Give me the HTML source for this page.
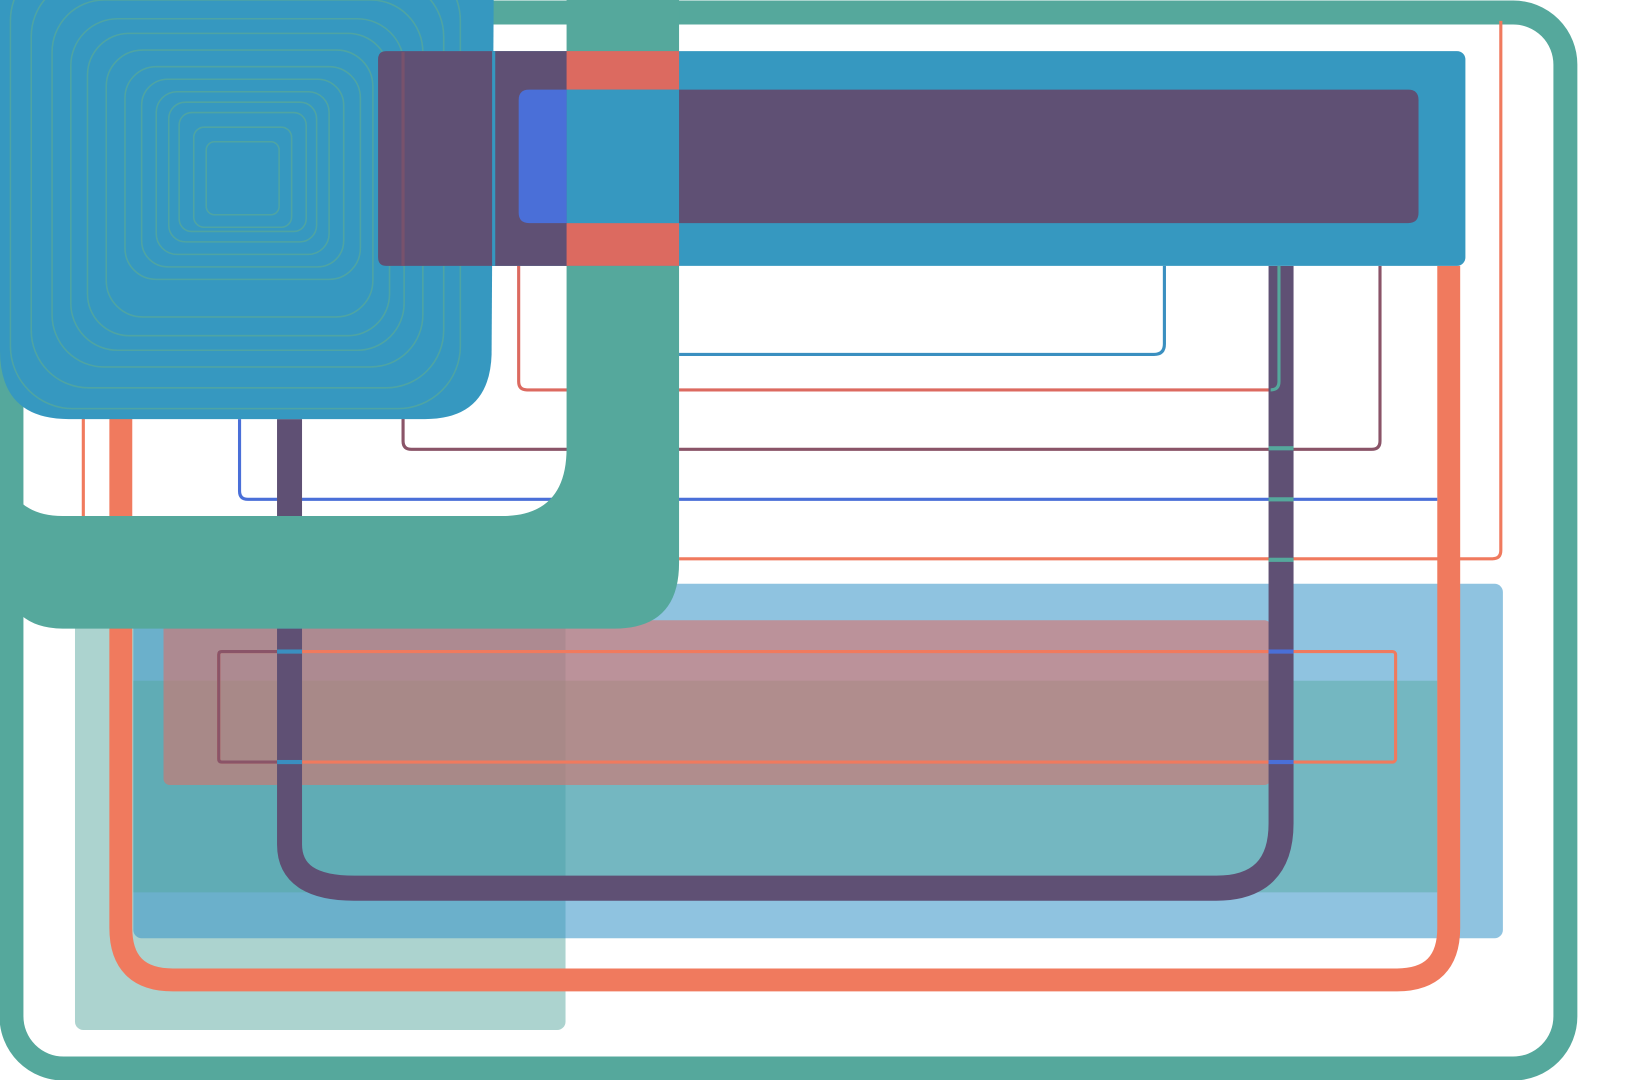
<!DOCTYPE html>
<html><head><meta charset="utf-8"><style>html,body{margin:0;padding:0;background:#fff;width:1631px;height:1080px;overflow:hidden}</style></head>
<body>
<svg width="1631" height="1080" viewBox="0 0 1566 1036" preserveAspectRatio="none" xmlns="http://www.w3.org/2000/svg">
<rect x="0" y="0" width="1566" height="1036" fill="#fff"/>
<rect x="11" y="12" width="1492" height="1013" rx="50" fill="none" stroke="#55a89c" stroke-width="23"/>
<rect x="72" y="560" width="471" height="428" rx="8" fill="#acd3cf"/>
<rect x="128" y="560" width="1315" height="340" rx="8" fill="#3a96c8" opacity="0.57"/>
<rect x="128" y="653" width="1252" height="203" fill="#55a89c" opacity="0.45"/>
<rect x="157" y="595" width="1063" height="158" rx="6" fill="#d9726a" opacity="0.6"/>
<path d="M1441 20 V528 Q1441 536 1433 536 H652" fill="none" stroke="#f07a5e" stroke-width="3"/>
<line x1="80" y1="400" x2="80" y2="496" stroke="#f07a5e" stroke-width="3"/>
<path d="M116 400 V890 Q116 940 166 940 H1341 Q1391 940 1391 890 V255" fill="none" stroke="#f07a5e" stroke-width="22"/>
<path d="M1118 255 V330 Q1118 340 1108 340 H652" fill="none" stroke="#3a8fc0" stroke-width="3"/>
<path d="M498 255 V366 Q498 374 506 374 H1220 Q1228 374 1228 366 V255" fill="none" stroke="#dc6a60" stroke-width="3"/>
<path d="M387 50 V423 Q387 431 395 431 H1317 Q1325 431 1325 423 V255" fill="none" stroke="#8a5468" stroke-width="3"/>
<path d="M230 402 V471 Q230 479 238 479 H1380" fill="none" stroke="#4a6fd8" stroke-width="3"/>
<rect x="210" y="625" width="1130" height="106" rx="3" fill="none" stroke="#f07a5e" stroke-width="3"/>
<path d="M290 625 H213 Q210 625 210 628 V728 Q210 731 213 731 H290" fill="none" stroke="#8a5468" stroke-width="3"/>
<path d="M278 402 V810 Q278 852 340 852 H1168 Q1230 852 1230 790 V255" fill="none" stroke="#5f5074" stroke-width="24"/>
<rect x="266" y="495" width="24" height="108" fill="#4a6fd8"/>
<rect x="1218" y="428" width="24" height="4" fill="#55a89c"/>
<rect x="1218" y="477" width="24" height="4" fill="#55a89c"/>
<rect x="1218" y="535" width="24" height="4" fill="#55a89c"/>
<rect x="1218" y="623" width="24" height="4" fill="#4a6fd8"/>
<rect x="1218" y="729" width="24" height="4" fill="#4a6fd8"/>
<rect x="266" y="623" width="24" height="4" fill="#3a8fc0"/>
<rect x="266" y="729" width="24" height="4" fill="#3a8fc0"/>
<path d="M1228 255 V366 Q1228 374 1220 374" fill="none" stroke="#55a89c" stroke-width="3"/>
<path d="M544 0 H652 V540 Q652 603 590 603 H60 Q35 603 20 590 V482 Q35 495 60 495 H482 Q544 495 544 430 Z" fill="#55a89c"/>
<path d="M0 0 H474 L472 340 Q470 402 408 402 H66 Q0 402 0 336 Z" fill="#3698c0"/>
<g fill="none" stroke="#55a89c" stroke-width="1.5" opacity="0.8">
<rect x="10" y="-40" width="432" height="432" rx="60"/>
<rect x="30" y="-20" width="396" height="392" rx="55"/>
<rect x="50" y="0" width="356" height="352" rx="50"/>
<rect x="68" y="18" width="320" height="318" rx="45"/>
<rect x="84" y="32" width="290" height="290" rx="40"/>
<rect x="102" y="48" width="256" height="256" rx="35"/>
<rect x="120" y="64" width="226" height="204" rx="30"/>
<rect x="136" y="76" width="194" height="180" rx="25"/>
<rect x="150" y="88" width="166" height="156" rx="20"/>
<rect x="162" y="98" width="142" height="134" rx="16"/>
<rect x="172" y="108" width="122" height="114" rx="12"/>
<rect x="186" y="122" width="94" height="96" rx="10"/>
<rect x="198" y="136" width="70" height="70" rx="8"/>
</g>
<rect x="363" y="49" width="1044" height="206" rx="8" fill="#3698c0"/>
<path d="M371 49 H545 V255 H371 Q363 255 363 247 V57 Q363 49 371 49 Z" fill="#5f5074"/>
<rect x="544" y="49" width="108" height="37" fill="#dc6a60"/>
<rect x="544" y="214" width="108" height="41" fill="#dc6a60"/>
<rect x="544" y="86" width="108" height="128" fill="#3698c0"/>
<path d="M652 86 H1352 Q1362 86 1362 96 V204 Q1362 214 1352 214 H652 Z" fill="#5f5074"/>
<path d="M508 86 H544 V214 H508 Q498 214 498 204 V96 Q498 86 508 86 Z" fill="#4a6fd8"/>
<line x1="387" y1="50" x2="387" y2="255" stroke="#8a5468" stroke-width="3" opacity="0.6"/>
<line x1="474" y1="49" x2="474" y2="255" stroke="#3698c0" stroke-width="3"/>
</svg>
</body></html>
